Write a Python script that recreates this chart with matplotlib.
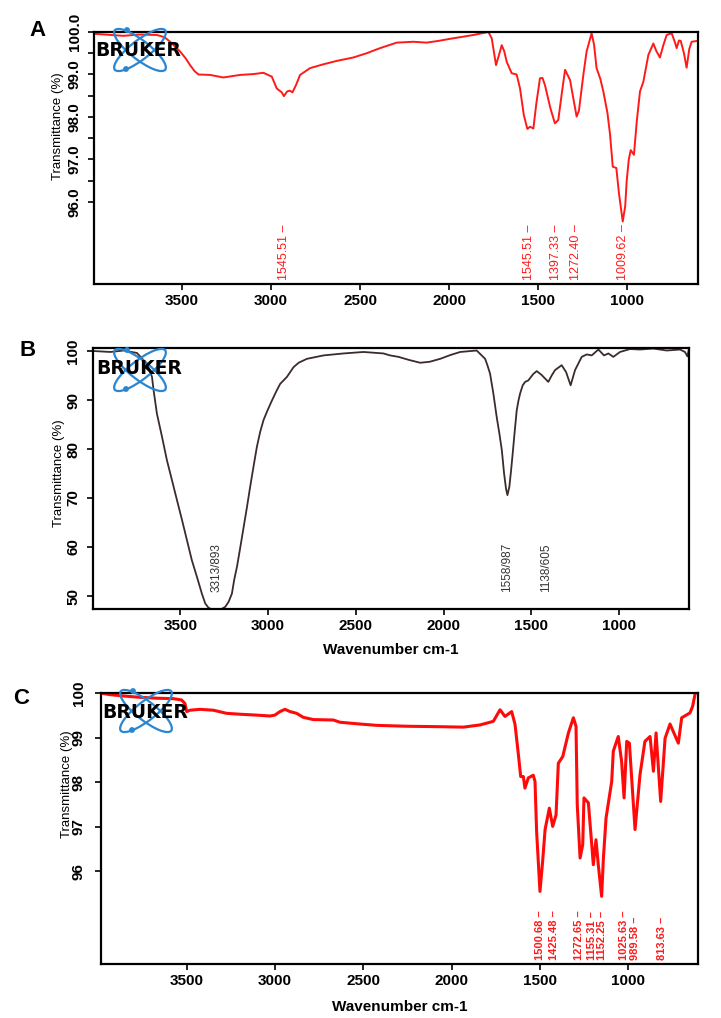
import matplotlib
matplotlib.use('Agg')
import matplotlib.pyplot as plt
from matplotlib.patches import Ellipse, Circle

# ---- data ----
# panel A
a_wn = [3998, 3900, 3830, 3740, 3642, 3600, 3567, 3540, 3511, 3480, 3455, 3430, 3408, 3343, 3268,
        3174, 3099, 3043, 2996, 2968, 2940, 2928, 2910, 2895, 2880, 2860, 2837, 2781, 2706, 2631,
        2538, 2463, 2388, 2294, 2200, 2126, 2060, 1994, 1920, 1863, 1779, 1760, 1736, 1720, 1704,
        1690, 1676, 1648, 1620, 1601, 1580, 1560, 1545, 1526, 1510, 1489, 1475, 1461, 1430, 1405,
        1386, 1365, 1348, 1320, 1300, 1283, 1270, 1245, 1227, 1199, 1185, 1171, 1150, 1133, 1110,
        1095, 1080, 1060, 1045, 1024, 1010, 1002, 990, 979, 961, 945, 927, 908, 880, 852,
        835, 815, 795, 777, 749, 730, 721, 708, 698, 680, 665, 650, 637, 605]
a_t = [99.96, 99.93, 99.91, 99.94, 99.93, 99.88, 99.77, 99.66, 99.54, 99.38, 99.22, 99.08, 99.00, 98.99, 98.93,
       98.99, 99.01, 99.04, 98.95, 98.67, 98.58, 98.49, 98.60, 98.62, 98.58, 98.75, 98.99, 99.15, 99.24, 99.32,
       99.40, 99.50, 99.62, 99.75, 99.77, 99.75, 99.79, 99.84, 99.89, 99.93, 100.0, 99.85, 99.22, 99.45, 99.69,
       99.55, 99.30, 99.03, 99.00, 98.67, 98.05, 97.72, 97.77, 97.73, 98.30, 98.91, 98.92, 98.75, 98.20, 97.85,
       97.93, 98.60, 99.11, 98.87, 98.40, 98.01, 98.15, 99.00, 99.54, 99.97, 99.70, 99.15, 98.90, 98.60, 98.10,
       97.58, 96.83, 96.80, 96.20, 95.54, 95.90, 96.48, 97.00, 97.22, 97.11, 97.90, 98.60, 98.83, 99.46, 99.73,
       99.55, 99.40, 99.70, 99.93, 99.97, 99.75, 99.62, 99.80, 99.79, 99.50, 99.16, 99.60, 99.77, 99.79]
a_peak_pos = [2925, 1551, 1400, 1287, 1021]
a_peak_txt = ['1545.51', '1545.51', '1397.33', '1272.40', '1009.62']

# panel B
b_wn = [3997, 3898, 3822, 3747, 3690, 3674, 3661, 3652, 3633, 3604, 3576, 3547, 3519, 3490, 3462,
        3434, 3405, 3377, 3358, 3339, 3320, 3290, 3263, 3244, 3225, 3206, 3193, 3177, 3158, 3139,
        3120, 3102, 3083, 3064, 3045, 3026, 3003, 2978, 2950, 2931, 2912, 2893, 2874, 2855, 2826,
        2779, 2684, 2570, 2457, 2381, 2343, 2305, 2257, 2200, 2134, 2080, 2020, 1960, 1906, 1812,
        1764, 1751, 1736, 1717, 1698, 1683, 1669, 1656, 1645, 1637, 1626, 1616, 1607, 1595, 1584,
        1574, 1565, 1550, 1536, 1518, 1490, 1470, 1442, 1404, 1385, 1366, 1328, 1303, 1277, 1252,
        1214, 1185, 1157, 1119, 1087, 1062, 1034, 996, 939, 882, 806, 730, 654, 626, 612,
        604]
b_t = [100.0, 99.8, 100.1, 99.6, 97.4, 96.1, 94.7, 92.0, 87.2, 82.5, 77.7, 73.6, 69.6, 65.5, 61.4,
       57.3, 53.9, 50.5, 48.5, 47.6, 47.3, 47.2, 47.4, 47.8, 48.8, 50.5, 53.3, 56.0, 60.0, 64.1,
       68.2, 72.3, 76.4, 80.4, 83.5, 85.9, 87.9, 89.9, 92.0, 93.3, 94.0, 94.7, 95.7, 96.7, 97.6,
       98.4, 99.1, 99.5, 99.8, 99.6, 99.5, 99.1, 98.8, 98.2, 97.6, 97.8, 98.4, 99.2, 99.8, 100.1,
       98.4, 97.1, 95.4, 91.3, 86.5, 83.2, 79.8, 75.0, 71.9, 70.6, 72.3, 75.7, 79.1, 83.8, 87.9,
       89.9, 91.3, 93.0, 93.7, 94.0, 95.3, 95.9, 95.1, 93.7, 95.0, 96.1, 97.1, 95.7, 93.0, 96.1,
       98.8, 99.3, 99.1, 100.3, 99.1, 99.5, 98.8, 99.8, 100.4, 100.3, 100.5, 100.1, 100.3, 99.8, 98.9,
       100.3]
b_peak_pos = [3292, 1639, 1417]
b_peak_txt = ['3313/893', '1558/987', '1138/605']

# panel C
c_wn = [3980, 3933, 3858, 3764, 3669, 3575, 3528, 3509, 3499, 3480, 3424, 3348, 3273, 3198, 3103,
        3028, 3000, 2971, 2943, 2915, 2877, 2839, 2783, 2669, 2632, 2519, 2424, 2254, 2066, 1934,
        1839, 1764, 1726, 1698, 1660, 1641, 1622, 1609, 1594, 1585, 1566, 1538, 1528, 1519, 1500,
        1485, 1471, 1447, 1428, 1409, 1396, 1371, 1339, 1311, 1296, 1289, 1273, 1258, 1251, 1226,
        1207, 1198, 1183, 1170, 1151, 1141, 1126, 1094, 1085, 1057, 1038, 1024, 1009, 994, 962,
        934, 906, 877, 858, 843, 817, 792, 764, 717, 698, 651, 636, 623, 618]
c_t = [100.0, 99.97, 99.94, 99.91, 99.89, 99.88, 99.85, 99.77, 99.59, 99.62, 99.64, 99.62, 99.55, 99.53, 99.51,
       99.49, 99.51, 99.59, 99.64, 99.59, 99.55, 99.46, 99.41, 99.40, 99.35, 99.31, 99.28, 99.26, 99.25, 99.24,
       99.29, 99.37, 99.63, 99.48, 99.59, 99.30, 98.62, 98.13, 98.13, 97.87, 98.10, 98.16, 98.02, 96.90, 95.55,
       96.22, 96.94, 97.42, 97.01, 97.27, 98.43, 98.58, 99.11, 99.45, 99.26, 97.50, 96.30, 96.60, 97.65, 97.54,
       96.60, 96.15, 96.71, 96.15, 95.44, 96.30, 97.20, 98.02, 98.70, 99.03, 98.47, 97.65, 98.92, 98.88, 96.94,
       98.17, 98.92, 99.03, 98.25, 99.11, 97.57, 98.99, 99.31, 98.88, 99.45, 99.56, 99.71, 99.97, 100.1]
c_peak_pos = [1500, 1421, 1281, 1207, 1150, 1024, 962, 811]
c_peak_txt = ['1500.68', '1425.48', '1272.65', '1155.31', '1152.25', '1025.63', '989.58', '813.63']

x_ticks = [3500, 3000, 2500, 2000, 1500, 1000]

W, H = 721, 1018
fig = plt.figure(figsize=(W / 100, H / 100), dpi=100)

tick_font = ['Liberation Sans Narrow', 'Liberation Sans']
label_font = ['Liberation Sans', 'DejaVu Sans']


def make_axes(box, xlim, ylim):
    # box in pixels: left, top, right, bottom
    l, t, r, b = box
    ax = fig.add_axes([l / W, 1 - b / H, (r - l) / W, (b - t) / H])
    ax.set_xlim(*xlim)
    ax.set_ylim(*ylim)
    for s in ax.spines.values():
        s.set_linewidth(1.6)
        s.set_color('black')
    ax.set_xticks(x_ticks)
    ax.set_xticklabels([str(v) for v in x_ticks], family=tick_font, weight='bold', fontsize=11)
    ax.tick_params(axis='x', direction='out', length=4, width=1.2, pad=3)
    ax.tick_params(axis='y', direction='out', length=4, width=1.2)
    return ax


def ylabel(ax, x, y):
    ax.set_ylabel('Transmittance (%)', family=label_font, fontsize=9.5)
    ax.yaxis.set_label_coords(x, y)


def logo(cx, cy, tx, ty):
    lax = fig.add_axes([(cx - 35) / W, 1 - (cy + 25) / H, 70 / W, 50 / H])
    lax.set_xlim(-35, 35)
    lax.set_ylim(-25, 25)
    lax.axis('off')
    lax.patch.set_alpha(0)
    for ang in (38, -38):
        lax.add_patch(Ellipse((0, 0), 64, 19, angle=ang, fill=False, ec='#2a86d0', lw=1.6))
    lax.add_patch(Circle((-14, -19), 2.2, color='#2a86d0'))
    lax.add_patch(Circle((-13, 20), 2.2, color='#2a86d0'))
    fig.text(tx / W, 1 - ty / H, 'BRUKER', ha='center', va='center', fontsize=13.5,
             weight='bold', family='DejaVu Sans', color='black', zorder=10)


# ---- A ----
axA = make_axes((94, 32, 698, 284), (3995, 601), (94.07, 100.0))
axA.plot(a_wn, a_t, color='#ff1a1a', lw=1.4)
axA.set_yticks([96, 96.5, 97, 97.5, 98, 98.5, 99, 99.5, 100])
axA.set_yticklabels(['96.0', '', '97.0', '', '98.0', '', '99.0', '', '100.0'],
                    rotation=90, va='center', family=tick_font, weight='bold', fontsize=11)
axA.tick_params(axis='y', pad=5)
ylabel(axA, -0.050, 0.627)
for p, s in zip(a_peak_pos, a_peak_txt):
    axA.text(p, 0.016, s + ' \u2013', transform=axA.get_xaxis_transform(), rotation=90,
             ha='center', va='bottom', color='#ff1a1a', fontsize=9, family=label_font)
fig.text(37 / W, 1 - 31 / H, 'A', ha='center', va='center', fontsize=16, weight='bold',
         family=tick_font)
logo(140, 50, 138, 50)

# ---- B ----
axB = make_axes((93, 348.3, 689, 609.3), (3997, 603), (47.3, 100.55))
axB.plot(b_wn, b_t, color='#3b2b2b', lw=1.3)
axB.set_yticks([50, 60, 70, 80, 90, 100])
axB.set_yticklabels(['50', '60', '70', '80', '90', '100'], rotation=90, va='center',
                    family=tick_font, weight='bold', fontsize=11)
axB.tick_params(axis='y', pad=5)
ylabel(axB, -0.047, 0.52)
axB.set_xlabel('Wavenumber cm-1', family=tick_font, weight='bold', fontsize=11)
axB.xaxis.set_label_coords(0.5, -0.129)
for p, s in zip(b_peak_pos, b_peak_txt):
    axB.text(p, 0.066, s, transform=axB.get_xaxis_transform(), rotation=90,
             ha='center', va='bottom', color='#333333', fontsize=8.5, family=label_font)
fig.text(27.6 / W, 1 - 351 / H, 'B', ha='center', va='center', fontsize=16, weight='bold',
         family=tick_font)
logo(140, 370, 139, 369)

# ---- C ----
axC = make_axes((101, 693.3, 698.3, 964), (3984, 604), (93.92, 100.0))
axC.plot(c_wn, c_t, color='#ff0a0a', lw=2.2)
axC.set_yticks([96, 97, 98, 99, 100])
axC.set_yticklabels(['96', '97', '98', '99', '100'], rotation=90, va='center',
                    family=tick_font, weight='bold', fontsize=11)
axC.tick_params(axis='y', pad=7)
ylabel(axC, -0.047, 0.663)
axC.set_xlabel('Wavenumber cm-1', family=tick_font, weight='bold', fontsize=11)
axC.xaxis.set_label_coords(0.5, -0.133)
for p, s in zip(c_peak_pos, c_peak_txt):
    axC.text(p, 0.015, s + ' \u2013', transform=axC.get_xaxis_transform(), rotation=90,
             ha='center', va='bottom', color='#ff1a1a', fontsize=8, weight='bold',
             family=label_font)
fig.text(20.7 / W, 1 - 699 / H, 'C', ha='center', va='center', fontsize=16, weight='bold',
         family=tick_font)
logo(146, 711, 145, 713)

fig.savefig('out.png', dpi=100)
